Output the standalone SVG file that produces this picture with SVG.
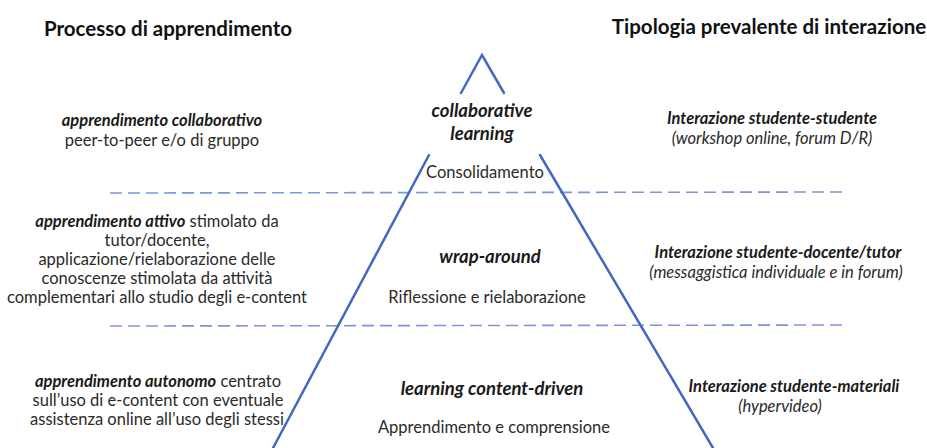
<svg xmlns="http://www.w3.org/2000/svg" width="927" height="448" viewBox="0 0 927 448">
<style>
text{font-family:Lato,"Open Sans","Liberation Sans",sans-serif;fill:#2a2a2a;font-size:16.5px;text-anchor:middle}
.h{font-size:20.5px;font-weight:bold;fill:#111}
.bi{font-weight:bold;font-style:italic;fill:#1a1a1a}
.c{font-size:18.5px}
.i{font-style:italic}
.tri{stroke:#4169c0;stroke-width:2.5;fill:none;stroke-linecap:round}
.dash{stroke:#7a95dc;stroke-width:1.6;stroke-dasharray:12 6;fill:none}
</style>
<rect width="927" height="448" fill="#fff"/>
<g id="connectors">
<line class="dash" x1="110" y1="193" x2="846" y2="192"/>
<line class="dash" x1="110" y1="326" x2="848" y2="325"/>
<path class="tri" d="M461,93 L482,55 L504,93"/>
<line class="tri" x1="429" y1="155" x2="273" y2="448"/>
<line class="tri" x1="540" y1="155" x2="713" y2="448"/>
</g>
<g id="header-left"><text class="h" x="168" y="36">Processo di apprendimento</text></g>
<g id="header-right"><text class="h" x="769" y="34">Tipologia prevalente di interazione</text></g>
<g id="left-1">
<text class="bi" x="162" y="126">apprendimento collaborativo</text>
<text x="162" y="146">peer-to-peer e/o di gruppo</text>
</g>
<g id="left-2">
<text x="157" y="227"><tspan class="bi">apprendimento attivo</tspan> stimolato da</text>
<text x="157" y="246">tutor/docente,</text>
<text x="157" y="265">applicazione/rielaborazione delle</text>
<text x="157" y="284">conoscenze stimolata da attività</text>
<text x="157" y="303">complementari allo studio degli e-content</text>
</g>
<g id="left-3">
<text x="158" y="387"><tspan class="bi">apprendimento autonomo</tspan> centrato</text>
<text x="158" y="406">sull’uso di e-content con eventuale</text>
<text x="157" y="425">assistenza online all’uso degli stessi</text>
</g>
<g id="center-1">
<text class="bi c" x="482" y="117">collaborative</text>
<text class="bi c" x="482" y="140">learning</text>
<text x="485" y="178">Consolidamento</text>
</g>
<g id="center-2">
<text class="bi c" x="490" y="263">wrap-around</text>
<text x="487" y="303">Riflessione e rielaborazione</text>
</g>
<g id="center-3">
<text class="bi c" x="492" y="395">learning content-driven</text>
<text x="494" y="433">Apprendimento e comprensione</text>
</g>
<g id="right-1">
<text class="bi" x="772" y="124">Interazione studente-studente</text>
<text class="i" x="772" y="144">(workshop online, forum D/R)</text>
</g>
<g id="right-2">
<text class="bi" x="778" y="258">Interazione studente-docente/tutor</text>
<text class="i" x="776" y="278">(messaggistica individuale e in forum)</text>
</g>
<g id="right-3">
<text class="bi" x="794" y="392">Interazione studente-materiali</text>
<text class="i" x="780" y="412">(hypervideo)</text>
</g>
</svg>
